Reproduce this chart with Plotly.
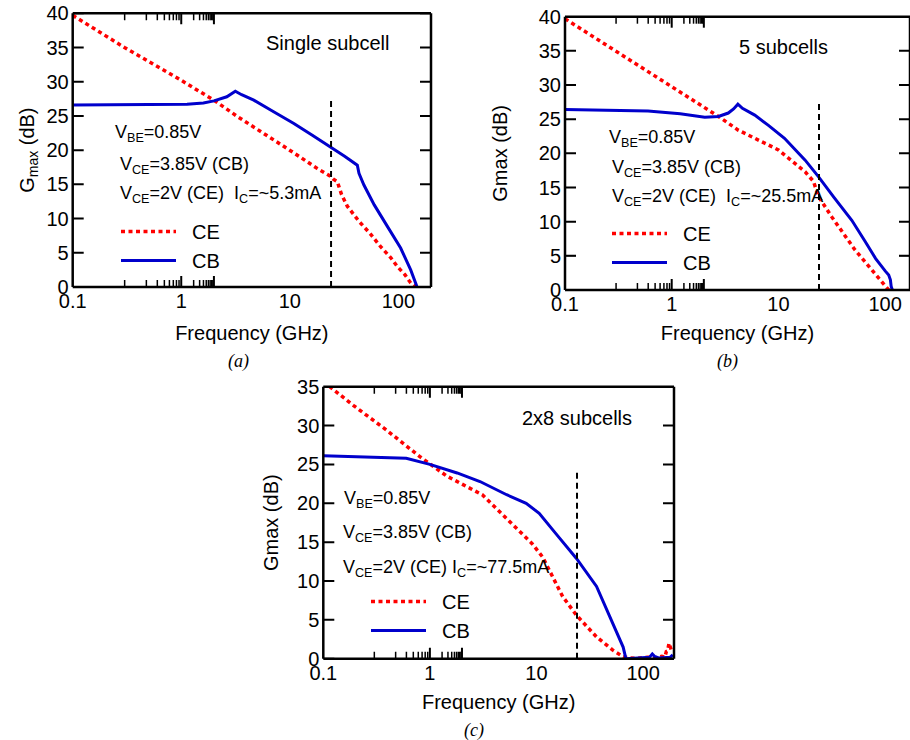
import math
import plotly.graph_objects as go

# ---------------- data ----------------
# (a) single subcell
freq_a_ce = [0.1, 0.3, 1, 2, 3.3, 6, 10.9, 18, 23.7, 25, 27.4, 30, 33.9, 43.4, 55, 68.7, 85, 97.7, 115, 130, 144]
gmax_a_ce = [39.7, 35.0, 30.2, 27.3, 24.9, 22.3, 19.6, 17.3, 16.2, 15.8, 15.4, 13.5, 11.8, 9.6, 7.8, 5.9, 4.3, 3.0, 1.8, 0.6, 0.0]
freq_a_cb = [0.1, 0.3, 0.64, 1.13, 1.6, 2.0, 2.63, 3.15, 3.6, 4.66, 7.1, 10.9, 16, 23.7, 32, 41.9, 43.4, 48.2, 60, 79, 105, 130, 148]
gmax_a_cb = [26.6, 26.6, 26.6, 26.7, 26.9, 27.2, 27.8, 28.6, 28.1, 27.3, 25.6, 23.9, 22.2, 20.5, 19.1, 17.8, 16.6, 14.9, 12.0, 8.9, 5.7, 2.5, 0.1]

# (b) 5 subcells
freq_b_ce = [0.1, 0.3, 1, 2.74, 4.2, 10, 17.8, 21.3, 23.7, 31.6, 52, 75, 93, 108]
gmax_b_ce = [39.7, 35.0, 29.8, 25.4, 23.4, 20.5, 17.3, 15.9, 13.7, 10.7, 5.9, 2.9, 1.2, 0.0]
freq_b_cb = [0.1, 0.6, 1.2, 2.04, 2.74, 3.39, 3.8, 4.17, 4.6, 6.0, 8.06, 11.4, 17.8, 23.7, 33, 48.7, 65, 81.5, 100, 108, 112, 114, 117]
gmax_b_cb = [26.4, 26.2, 25.8, 25.3, 25.4, 25.9, 26.5, 27.2, 26.6, 25.6, 24.1, 22.2, 19.0, 16.6, 13.6, 10.2, 7.1, 4.6, 2.8, 2.2, 1.5, 0.5, 0.0]

# (c) 2x8 subcells
freq_c_ce = [0.1, 0.115, 0.191, 0.393, 0.805, 1.0, 1.44, 3.1, 5.5, 9.1, 11.4, 13.2, 17.6, 23.7, 36.6, 52, 65, 75, 90, 110, 130, 150, 160, 165, 170, 175, 180, 186]
gmax_c_ce = [35.6, 35.0, 32.6, 29.4, 26.0, 25.1, 23.5, 21.1, 17.8, 14.8, 13.1, 11.4, 8.0, 5.6, 2.8, 1.1, 0.25, 0.1, 0.05, 0.2, 0.1, 0.3, 0.2, 0.9, 1.0, 2.0, 1.5, 0.9]
freq_c_cb = [0.1, 0.6, 1.0, 1.8, 2.95, 3.95, 5.25, 8, 10.6, 15.2, 23.7, 36.6, 52, 65, 69, 80, 100, 115, 122, 128, 140, 160, 180, 190]
gmax_c_cb = [26.1, 25.8, 25.0, 23.9, 22.8, 21.9, 21.1, 20.0, 18.7, 16.1, 12.9, 9.3, 4.5, 1.5, 0.0, 0.05, 0.1, 0.2, 0.6, 0.3, 0.1, 0.15, 0.2, 0.5]

# dashed marker line at 24 GHz (frequency, top value per panel)
marker_freq = 24
marker_top = [27.6, 27.8, 24.3]

# axes
x_tick_vals = [0.1, 1, 10, 100]
x_tick_text = ["0.1", "1", "10", "100"]
x_max = [200, 171, 195]
y_max = [40, 40, 35]
y_step = 5

panel_titles = ["Single subcell", "5 subcells", "2x8 subcells"]
captions = ["(a)", "(b)", "(c)"]
ic_text = ["~5.3mA", "~25.5mA", "~77.5mA"]
y_titles = ["G<sub>max</sub> (dB)", "Gmax (dB)", "Gmax (dB)"]
series_names = ["\u00a0\u00a0CE", "\u00a0\u00a0CB"]

# ---------------- layout helpers ----------------
W, H = 910, 740
def px(x):
    return x / W
def py(y):
    return 1 - y / H

FONT = "Arial, Liberation Sans, Helvetica, sans-serif"
RED = "#ff0000"
BLUE = "#0000cc"

domains = [
    dict(x=[px(72.7), px(431)], y=[py(287), py(13.3)]),
    dict(x=[px(565), 1.0], y=[py(290), py(16.7)]),
    dict(x=[px(323.3), px(674)], y=[py(658.7), py(386.7)]),
]

data_sets = [
    (freq_a_ce, gmax_a_ce, freq_a_cb, gmax_a_cb),
    (freq_b_ce, gmax_b_ce, freq_b_cb, gmax_b_cb),
    (freq_c_ce, gmax_c_ce, freq_c_cb, gmax_c_cb),
]
legend_names = ["legend", "legend2", "legend3"]

fig = go.Figure()
for i, (fce, gce, fcb, gcb) in enumerate(data_sets):
    xa = "x" if i == 0 else f"x{i+1}"
    ya = "y" if i == 0 else f"y{i+1}"
    fig.add_trace(go.Scatter(x=fce, y=gce, mode="lines", name=series_names[0],
                             line=dict(color=RED, width=3.5, dash="4px,3.5px"),
                             xaxis=xa, yaxis=ya, legend=legend_names[i]))
    fig.add_trace(go.Scatter(x=fcb, y=gcb, mode="lines", name=series_names[1],
                             line=dict(color=BLUE, width=3),
                             xaxis=xa, yaxis=ya, legend=legend_names[i]))
    fig.add_trace(go.Scatter(x=[marker_freq, marker_freq], y=[0, marker_top[i]], mode="lines",
                             line=dict(color="black", width=2, dash="6px,4px"),
                             xaxis=xa, yaxis=ya, showlegend=False, hoverinfo="skip"))

fig.update_layout(
    template="none",
    width=W, height=H,
    margin=dict(l=0, r=0, t=0, b=0, autoexpand=False),
    paper_bgcolor="white", plot_bgcolor="rgba(0,0,0,0)",
    font=dict(family=FONT, size=20, color="black"),
    showlegend=True,
)

x_title_standoff = [14, 11, 12]
y_title_standoff = [6, 25, 13]
for i in range(3):
    sfx = "" if i == 0 else str(i + 1)
    fig.layout["xaxis" + sfx] = dict(
        type="log", domain=domains[i]["x"], anchor="y" + sfx,
        range=[-1, math.log10(x_max[i])], automargin=False,
        tickmode="array", tickvals=x_tick_vals, ticktext=x_tick_text,
        ticks="", showline=False, showgrid=False, zeroline=False,
        tickfont=dict(size=20, color="black"),
        title=dict(text="Frequency (GHz)", font=dict(size=20), standoff=x_title_standoff[i]),
    )
    fig.layout["yaxis" + sfx] = dict(
        domain=domains[i]["y"], anchor="x" + sfx,
        range=[0, y_max[i]], dtick=y_step, tick0=0, automargin=False,
        ticks="", showline=False, showgrid=False, zeroline=False,
        tickfont=dict(size=20, color="black"), ticklabelstandoff=3,
        title=dict(text=y_titles[i], font=dict(size=20), standoff=y_title_standoff[i]),
    )

# ---------------- frame and tick marks (drawn as layout shapes) ----------------
shapes = []
BLACK2 = dict(color="black", width=2)
for i in range(3):
    sfx = "" if i == 0 else str(i + 1)
    d = domains[i]
    # frame: four edges
    for (x0, x1, y0, y1) in (
        (d["x"][0], d["x"][1], d["y"][0], d["y"][0]),
        (d["x"][0], d["x"][1], d["y"][1], d["y"][1]),
        (d["x"][0], d["x"][0], d["y"][0], d["y"][1]),
        (d["x"][1], d["x"][1], d["y"][0], d["y"][1]),
    ):
        shapes.append(dict(type="line", xref="paper", yref="paper", layer="above",
                           x0=x0, x1=x1, y0=y0, y1=y1, line=dict(color="black", width=2.5)))
    lo, hi = -1, math.log10(x_max[i])
    majors = [math.log10(v) for v in x_tick_vals if lo <= math.log10(v) <= hi]
    minors = [math.log10(m * 10 ** e) for e in range(-1, 3) for m in range(2, 10)
              if lo < math.log10(m * 10 ** e) < hi]
    for vals, ln, wd in ((majors, 11, 2), (minors, 7, 1.5)):
        for v in vals:
            for anchor, sign in ((0, 1), (1, -1)):
                shapes.append(dict(type="line", layer="above",
                                   xref="x" + sfx, yref=f"y{sfx} domain",
                                   x0=v, x1=v, ysizemode="pixel", yanchor=anchor,
                                   y0=0, y1=sign * ln,
                                   line=dict(color="black", width=wd)))
    for k in range(0, int(y_max[i] / y_step) + 1):
        v = k * y_step
        for anchor, sign in ((0, 1), (1, -1)):
            shapes.append(dict(type="line", layer="above",
                               xref=f"x{sfx} domain", yref="y" + sfx,
                               y0=v, y1=v, xsizemode="pixel", xanchor=anchor,
                               x0=0, x1=sign * 11,
                               line=BLACK2))
fig.update_layout(shapes=shapes)

legend_pos = [(116, 212), (607, 214), (366, 582)]
for i, name in enumerate(legend_names):
    lx, ly = legend_pos[i]
    fig.layout[name] = dict(x=px(lx), y=py(ly), xanchor="left", yanchor="top",
                            xref="paper", yref="paper",
                            bgcolor="rgba(0,0,0,0)", borderwidth=0,
                            font=dict(size=20, color="black"), itemwidth=55, tracegroupgap=0)

# ---------------- annotations ----------------
annots = []
def txt(text, x, y, size=18, xanchor="left", yanchor="middle", family=FONT, style="normal"):
    annots.append(dict(text=text, x=px(x), y=py(y), xref="paper", yref="paper",
                       xanchor=xanchor, yanchor=yanchor, showarrow=False,
                       font=dict(size=size, family=family, color="black", style=style)))

title_pos = [(327, 43), (783, 47), (577, 418)]
for i in range(3):
    txt(panel_titles[i], *title_pos[i], size=20, xanchor="center")

cond_pos = [
    [(113, 133), (118, 165), (118, 194)],
    [(607, 138), (610, 168), (610, 198)],
    [(342, 499), (341, 533), (341, 568)],
]
sep = ["\u00a0\u00a0", "\u00a0\u00a0", "\u00a0"]
for i in range(3):
    lines = [
        "V<sub>BE</sub>=0.85V",
        "V<sub>CE</sub>=3.85V (CB)",
        f"V<sub>CE</sub>=2V (CE){sep[i]}I<sub>C</sub>={ic_text[i]}",
    ]
    for j, line in enumerate(lines):
        txt(line, *cond_pos[i][j], size=18)

cap_pos = [(238, 361), (727, 361), (474, 730)]
for i in range(3):
    txt(captions[i], *cap_pos[i], size=18, xanchor="center",
        family="Liberation Serif, Times New Roman, serif", style="italic")

fig.update_layout(annotations=annots)
fig.write_html("out.html", config={"displayModeBar": False},
               post_script="document.body.style.margin='0px';")
